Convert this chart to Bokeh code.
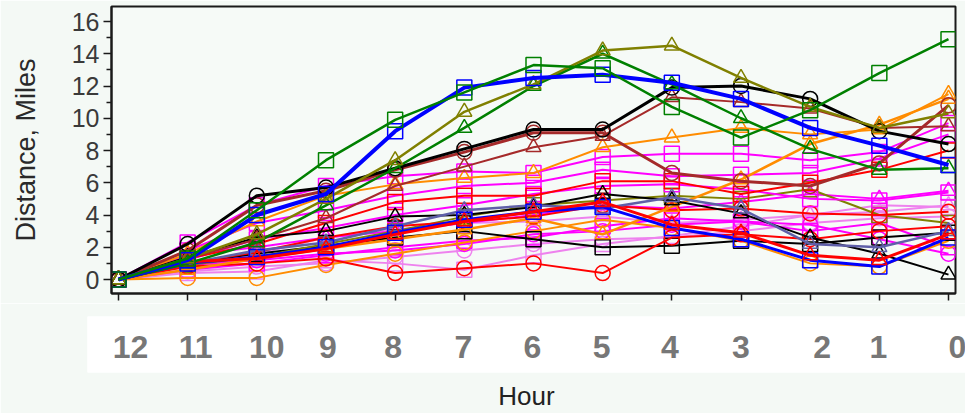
from bokeh.plotting import figure
from bokeh.models import Range1d, FixedTicker
from bokeh.layouts import column, row
from bokeh.embed import file_html
from bokeh.resources import INLINE
from bokeh.core.properties import value

# ---------------- data ----------------
hours = [12, 11, 10, 9, 8, 7, 6, 5, 4, 3, 2, 1, 0]
hour_labels = ["12", "11", "10", "9", "8", "7", "6", "5", "4", "3", "2", "1", "0"]

green_sq_a = [0, 1.3, 4.3, 7.4, 9.9, 11.6, 13.3, 13.1, 10.7, 8.8, 10.5, 12.8, 14.9]
blue_sq_a = [0, 1.2, 4.0, 5.3, 9.2, 11.9, 12.5, 12.7, 12.2, 11.2, 9.4, 8.3, 7.1]
olive_tri_a = [0, 1.3, 2.8, 5.0, 7.4, 10.4, 12.1, 14.2, 14.5, 12.5, 10.7, 9.4, 10.3]
green_tri_a = [0, 1.0, 2.3, 4.6, 6.9, 9.4, 12.0, 14.0, 12.1, 10.0, 8.1, 6.8, 6.9]
black_circ_a = [0, 2.2, 5.2, 5.7, 6.9, 8.1, 9.3, 9.3, 11.9, 12.0, 11.2, 9.2, 8.4]
brown_circ_a = [0, 1.8, 4.6, 5.5, 6.8, 7.9, 9.1, 9.1, 6.6, 6.1, 5.8, 7.2, 10.8]
brown_tri_a = [0, 1.3, 2.5, 3.8, 5.8, 7.0, 8.2, 8.9, 11.3, 11.0, 10.6, 9.4, 9.5]
orange_tri_a = [0, 1.6, 3.6, 5.2, 5.9, 6.3, 6.6, 8.2, 8.8, 9.4, 9.0, 9.3, 11.5]
orange_tri_b = [0, 0.6, 1.3, 1.9, 2.5, 3.1, 3.8, 2.8, 4.5, 6.2, 8.4, 9.6, 11.2]
magenta_sq_a = [0, 2.3, 4.6, 5.8, 6.4, 6.7, 6.6, 7.6, 7.8, 7.8, 7.4, 7.9, 9.7]
magenta_sq_b = [0, 1.8, 3.5, 4.3, 5.2, 5.8, 6.0, 6.8, 6.4, 6.5, 6.6, 7.5, 9.0]
magenta_sq_c = [0, 1.2, 2.5, 3.2, 4.0, 4.6, 5.3, 5.8, 5.9, 5.6, 5.0, 4.9, 5.4]
magenta_sq_d = [0, 0.6, 1.0, 1.5, 2.0, 2.4, 2.6, 3.3, 3.8, 3.6, 3.0, 3.5, 2.0]
red_sq_a = [0, 1.3, 2.2, 3.5, 4.8, 5.2, 5.2, 6.1, 6.1, 5.3, 6.0, 6.8, 8.0]
red_circ_a = [0, 1.0, 1.7, 2.6, 3.3, 3.6, 3.9, 4.6, 4.3, 4.4, 4.1, 4.0, 4.2]
red_circ_b = [0, 0.8, 1.0, 1.3, 0.4, 0.7, 1.0, 0.4, 2.6, 2.8, 2.5, 3.0, 3.3]
blue_sq_b = [0, 1.0, 1.4, 2.0, 2.9, 3.7, 4.2, 4.5, 3.2, 2.5, 1.2, 0.8, 2.6]
red_tri_a = [0, 1.1, 1.3, 1.9, 2.8, 3.6, 4.2, 4.8, 3.4, 2.9, 1.5, 1.2, 2.8]
slate_tri_a = [0, 1.0, 1.8, 2.3, 3.3, 4.3, 4.6, 4.4, 5.1, 4.4, 2.2, 2.0, 3.0]
black_tri_a = [0, 1.4, 2.6, 3.0, 3.9, 4.0, 4.5, 5.3, 4.9, 4.1, 2.6, 1.6, 0.3]
violet_circ_a = [0, 0.5, 0.8, 1.0, 1.4, 1.8, 2.2, 2.5, 2.6, 3.0, 3.5, 3.8, 3.9]
violet_sq_a = [0, 0.4, 0.5, 1.2, 1.0, 0.6, 1.5, 2.2, 2.7, 3.3, 4.0, 4.6, 4.5]
violet_tri_a = [0, 0.8, 1.6, 2.6, 3.1, 3.5, 3.6, 3.9, 3.5, 3.7, 4.0, 4.2, 4.6]
magenta_circ_a = [0, 0.9, 1.2, 1.6, 1.8, 2.2, 2.8, 3.0, 3.4, 3.6, 3.4, 2.5, 1.6]
magenta_tri_a = [0, 1.5, 2.0, 2.6, 3.0, 3.5, 4.0, 4.6, 4.4, 4.8, 5.3, 5.0, 5.5]
olive_sq_a = [0, 0.9, 1.4, 2.2, 3.0, 3.9, 4.6, 4.9, 5.2, 5.0, 5.6, 4.0, 3.5]
black_sq_a = [0, 1.0, 1.6, 2.1, 2.6, 3.0, 2.5, 2.0, 2.1, 2.4, 2.2, 2.6, 2.9]
orange_circ_a = [0, 0.1, 0.1, 0.9, 1.6, 2.3, 3.0, 3.7, 3.2, 2.4, 1.0, 0.8, 2.4]

# ---------------- styles ----------------
GREEN, BLUE, OLIVE, BLACK = "#008000", "#0000ff", "#808000", "#000000"
BROWN, ORANGE, MAGENTA, RED = "#a52a2a", "#ff8c00", "#ff00ff", "#ff0000"
VIOLET, SLATE = "#ee82ee", "#5f5fa8"

series = [
    (violet_circ_a, VIOLET, "circle", 2),
    (violet_sq_a, VIOLET, "square", 2),
    (violet_tri_a, VIOLET, "triangle", 2),
    (magenta_sq_d, MAGENTA, "square", 2),
    (magenta_circ_a, MAGENTA, "circle", 2),
    (magenta_tri_a, MAGENTA, "triangle", 2),
    (orange_circ_a, ORANGE, "circle", 2),
    (black_sq_a, BLACK, "square", 2),
    (olive_sq_a, OLIVE, "square", 2),
    (red_circ_b, RED, "circle", 2),
    (red_circ_a, RED, "circle", 2),
    (magenta_sq_c, MAGENTA, "square", 2),
    (magenta_sq_b, MAGENTA, "square", 2),
    (magenta_sq_a, MAGENTA, "square", 2),
    (red_sq_a, RED, "square", 2),
    (orange_tri_b, ORANGE, "triangle", 2.5),
    (orange_tri_a, ORANGE, "triangle", 2),
    (black_tri_a, BLACK, "triangle", 2),
    (slate_tri_a, SLATE, "triangle", 2.5),
    (blue_sq_b, BLUE, "square", 3),
    (red_tri_a, RED, "triangle", 3),
    (brown_tri_a, BROWN, "triangle", 2),
    (brown_circ_a, BROWN, "circle", 3),
    (black_circ_a, BLACK, "circle", 3),
    (green_tri_a, GREEN, "triangle", 2.5),
    (olive_tri_a, OLIVE, "triangle", 2.5),
    (blue_sq_a, BLUE, "square", 4),
    (green_sq_a, GREEN, "square", 2.5),
]

BG = "#f4f9f5"
PLOT_BG = "#f6faf7"

# ---------------- main plot ----------------
WIDTH = 965
H_A = 303
frame_left, frame_right = 111, 955
frame_top, frame_bottom = 6, 293
x12_px, x0_px = 118, 948          # where hour 12 and hour 0 sit
y0_px, y16_px = 279, 21           # where 0 and 16 miles sit
pph = (x0_px - x12_px) / 12.0
ppu = (y0_px - y16_px) / 16.0

x_start = 12 + (x12_px - frame_left) / pph
x_end = 0 - (frame_right - x0_px) / pph
y_end = (y0_px - frame_top) / ppu
y_start = -(frame_bottom - y0_px) / ppu

p = figure(width=WIDTH, height=H_A, output_backend="svg", toolbar_location=None,
           x_range=Range1d(x_start, x_end), y_range=Range1d(y_start, y_end),
           min_border_left=frame_left, min_border_right=WIDTH - frame_right,
           min_border_top=frame_top, min_border_bottom=H_A - frame_bottom,
           background_fill_color=PLOT_BG, border_fill_color=BG,
           outline_line_color="#1a1a1a", outline_line_width=2)
p.xgrid.visible = False
p.ygrid.visible = False

for vals, col, mk, lw in series:
    p.line(hours, vals, line_color=col, line_width=lw)
    p.scatter(hours, vals, marker=mk, size=15, fill_color=None,
              line_color=col, line_width=1.5)

xa = p.xaxis[0]
xa.ticker = FixedTicker(ticks=hours, minor_ticks=[])
xa.major_tick_out = 7
xa.major_tick_in = 0
xa.major_tick_line_width = 1.5
xa.major_tick_line_color = "#1a1a1a"
xa.axis_line_color = "#1a1a1a"
xa.axis_line_width = 2
xa.major_label_overrides = {h: "" for h in hours}
xa.major_label_standoff = 0

ya = p.yaxis[0]
ya.ticker = FixedTicker(ticks=list(range(0, 17, 2)), minor_ticks=list(range(1, 16, 2)))
ya.major_tick_out = 8
ya.major_tick_in = 0
ya.minor_tick_out = 5
ya.minor_tick_in = 0
ya.major_tick_line_width = 1.5
ya.minor_tick_line_width = 1.5
ya.major_tick_line_color = "#1a1a1a"
ya.minor_tick_line_color = "#1a1a1a"
ya.axis_line_color = "#1a1a1a"
ya.axis_line_width = 2
ya.major_label_text_font = "Liberation Sans"
ya.major_label_text_font_size = "25px"
ya.major_label_text_color = "#3a3a3a"
ya.major_label_standoff = 4
ya.axis_label = "Distance, Miles"
ya.axis_label_text_font = "Liberation Sans"
ya.axis_label_text_font_size = "27px"
ya.axis_label_text_font_style = "normal"
ya.axis_label_text_color = "#2a2a2a"
ya.axis_label_standoff = 28

# ---------------- hour label band ----------------
H_B = 110
band_left = 87
band_top, band_bottom = 13, 70
bx_start = 12 + (x12_px - band_left) / pph
bx_end = 0 - (WIDTH - x0_px) / pph
label_dx = [12, 8, 10, 2, -2, -1, -1, -1, -2, 0, 12, -1, 9]

q = figure(width=WIDTH, height=H_B, output_backend="svg", toolbar_location=None,
           x_range=Range1d(bx_start, bx_end), y_range=Range1d(0, 1),
           min_border_left=band_left, min_border_right=0,
           min_border_top=band_top, min_border_bottom=H_B - band_bottom,
           background_fill_color="white", border_fill_color=BG,
           outline_line_color=None, y_axis_location=None)
q.xgrid.visible = False
q.ygrid.visible = False
q.text(x=hours, y=[0.45] * len(hours), text=hour_labels, x_offset=label_dx,
       text_align="center", text_baseline="middle",
       text_font=value("Liberation Sans"), text_font_size="32px",
       text_font_style="bold", text_color="#777777")
qa = q.xaxis[0]
qa.ticker = FixedTicker(ticks=[])
qa.axis_line_color = None
qa.major_tick_out = 0
qa.major_tick_in = 0
qa.major_label_standoff = 0
qa.axis_label = "Hour"
qa.axis_label_text_font = "Liberation Sans"
qa.axis_label_text_font_size = "26px"
qa.axis_label_text_font_style = "normal"
qa.axis_label_text_color = "#222222"
qa.axis_label_standoff = 8

layout = column(p, row(q, spacing=0), spacing=0)
open("out.html", "w").write(file_html(layout, INLINE))
